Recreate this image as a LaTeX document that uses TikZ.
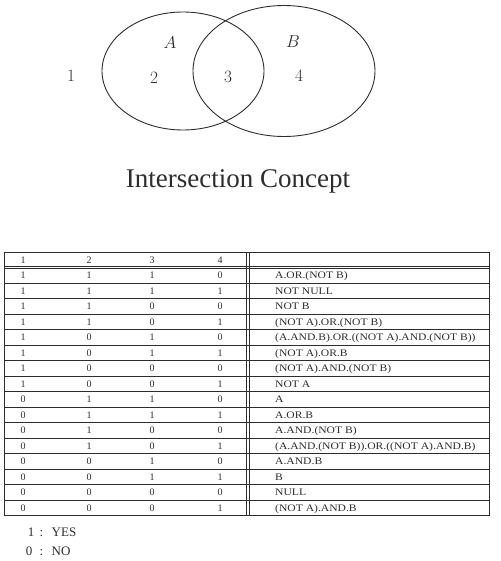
\documentclass[tikz,border=0pt]{standalone}
\usepackage{fontspec}
\usetikzlibrary{shapes.geometric}
\newfontfamily\tms{Liberation Serif}
\newfontfamily\tmsw[FakeStretch=1.16]{Liberation Serif}
\definecolor{ink}{RGB}{45,45,45}
\begin{document}
\begin{tikzpicture}[x=1pt,y=-1pt]
\useasboundingbox (0,0) rectangle (500,561);
\tikzset{
  venn/.style={draw=ink, line width=0.9pt, ellipse, inner sep=0pt},
  vlabel/.style={text=ink, font=\LARGE, inner sep=0pt},
  cell/.style={text=ink, font=\tms\fontsize{10}{12}\selectfont, inner sep=0pt, anchor=base},
  expr/.style={cell, font=\tmsw\fontsize{10}{12}\selectfont, anchor=base west},
  rule/.style={draw=ink, line width=0.7pt},
  title/.style={text=ink, font=\tms\fontsize{27}{30}\selectfont, inner sep=0pt, anchor=base},
  legend/.style={text=ink, font=\tms\fontsize{13}{15}\selectfont, inner sep=0pt, anchor=base},
  legendw/.style={legend, anchor=base west},
}
% Venn diagram
\node[venn, minimum width=162pt, minimum height=118pt] (A) at (183,71) {};
\node[venn, minimum width=182pt, minimum height=131pt] (B) at (284,71) {};
\node[vlabel] (lA) at (170,43) {$A$};
\node[vlabel] (lB) at (293,42) {$B$};
\node[vlabel] (n1) at (71,76) {1};
\node[vlabel] (n2) at (154,78) {2};
\node[vlabel] (n3) at (228,77) {3};
\node[vlabel] (n4) at (299,76) {4};
\node[title] (ttl) at (238,188) {Intersection Concept};
% table frame
\coordinate (tl) at (4,252);
\coordinate (br) at (489,515.5);
\draw[rule] (tl) rectangle (br);
\draw[rule] (246,252) -- (246,515.5);
\draw[rule] (249,252) -- (249,515.5);
\draw[rule] (4,266.3) -- (489,266.3);
\draw[rule] (4,268.6) -- (489,268.6);
% header
\node[cell] (h1) at (23,263) {1};
\node[cell] (h2) at (89,263) {2};
\node[cell] (h3) at (152,263) {3};
\node[cell] (h4) at (220,263) {4};
% rows
\foreach \a/\b/\c/\d/\t [count=\k] in {
  1/1/1/0/{A.OR.(NOT B)},
  1/1/1/1/{NOT NULL},
  1/1/0/0/{NOT B},
  1/1/0/1/{(NOT A).OR.(NOT B)},
  1/0/1/0/{(A.AND.B).OR.((NOT A).AND.(NOT B))},
  1/0/1/1/{(NOT A).OR.B},
  1/0/0/0/{(NOT A).AND.(NOT B)},
  1/0/0/1/{NOT A},
  0/1/1/0/{A},
  0/1/1/1/{A.OR.B},
  0/1/0/0/{A.AND.(NOT B)},
  0/1/0/1/{(A.AND.(NOT B)).OR.((NOT A).AND.B)},
  0/0/1/0/{A.AND.B},
  0/0/1/1/{B},
  0/0/0/0/{NULL},
  0/0/0/1/{(NOT A).AND.B}} {
  \pgfmathsetmacro\yy{252+15.5*\k+11.3}
  \node[cell] (r\k c1) at (23,\yy) {\a};
  \node[cell] (r\k c2) at (89,\yy) {\b};
  \node[cell] (r\k c3) at (152,\yy) {\c};
  \node[cell] (r\k c4) at (220,\yy) {\d};
  \node[expr] (r\k e) at (275,\yy) {\t};
  \ifnum\k<16
    \draw[rule] (4,{252+15.5*(\k+1)}) -- (489,{252+15.5*(\k+1)});
  \fi
}
% legend
\node[legend] (yesd) at (31,536) {1};
\node[legend] (yesc) at (41.5,536) {:};
\node[legendw] (yesw) at (51.5,536) {YES};
\node[legend] (nod) at (29,555) {0};
\node[legend] (noc) at (41.5,555) {:};
\node[legendw] (now) at (51.5,555) {NO};
\end{tikzpicture}
\end{document}
